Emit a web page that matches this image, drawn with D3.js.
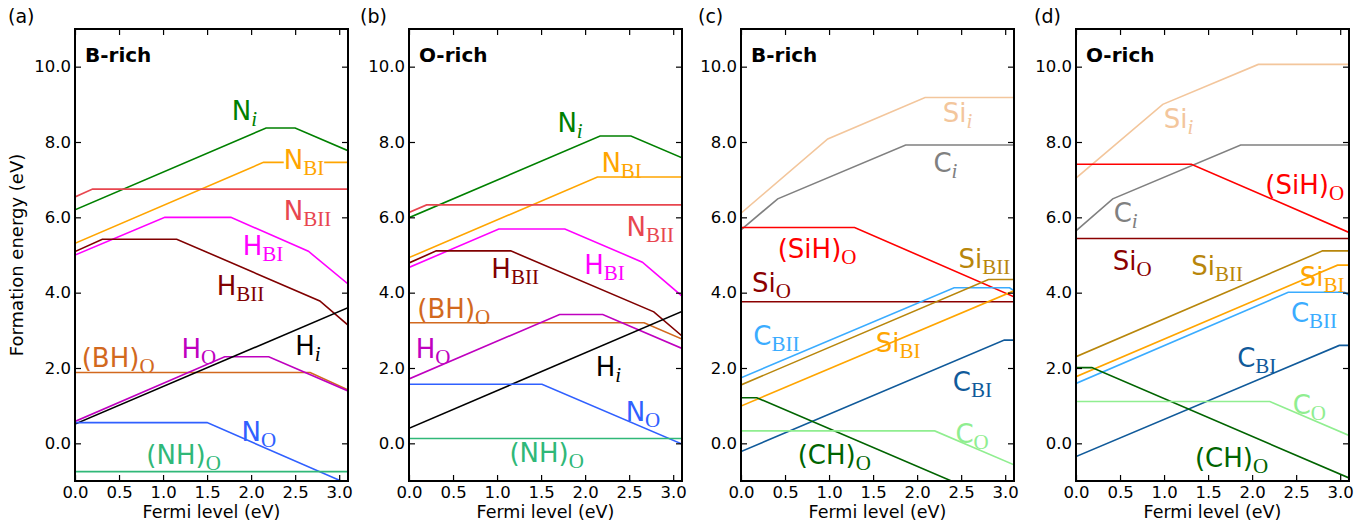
<!DOCTYPE html>
<html>
<head>
<meta charset="utf-8">
<script src="https://cdn.jsdelivr.net/npm/d3@7"></script>
<style>
  body { margin: 0; background: #fff; }
  svg text { font-family: "DejaVu Sans", sans-serif; }
</style>
</head>
<body>
<svg id="chart" width="1371" height="532"></svg>
<script>
const xTicks = [0, 0.5, 1, 1.5, 2, 2.5, 3];
const yTicks = [0, 2, 4, 6, 8, 10];
const panelLetters = ["(a)", "(b)", "(c)", "(d)"];
const conditions = ["B-rich", "O-rich", "B-rich", "O-rich"];

// (a) B-rich, N and H defects  -- [Fermi level, formation energy]
const a_Ni   = [[0, 6.2], [2.17, 8.37], [2.5, 8.37], [3.1, 7.77]];
const a_NBI  = [[0, 5.31], [2.14, 7.46], [3.1, 7.46]];
const a_NBII = [[0, 6.54], [0.2, 6.75], [3.1, 6.75]];
const a_HBI  = [[0, 5.0], [1.02, 6.0], [1.77, 6.0], [2.65, 5.1], [3.1, 4.23]];
const a_HBII = [[0, 5.09], [0.31, 5.42], [1.155, 5.42], [2.78, 3.78], [3.1, 3.14]];
const a_BHO  = [[0, 1.88], [2.67, 1.88], [3.1, 1.42]];
const a_HO   = [[0, 0.58], [1.7, 2.3], [2.2, 2.3], [3.1, 1.39]];
const a_Hi   = [[0, 0.51], [3.1, 3.6]];
const a_NO   = [[0, 0.55], [1.5, 0.55], [3.1, -1.08]];
const a_NHO  = [[0, -0.75], [3.1, -0.75]];

// (b) O-rich, N and H defects
const b_Ni   = [[0, 5.99], [2.17, 8.16], [2.52, 8.16], [3.1, 7.58]];
const b_NBI  = [[0, 4.93], [2.14, 7.07], [3.1, 7.07]];
const b_NBII = [[0, 6.13], [0.2, 6.33], [3.1, 6.33]];
const b_HBI  = [[0, 4.67], [1.02, 5.69], [1.77, 5.69], [2.65, 4.81], [3.1, 3.91]];
const b_HBII = [[0, 4.79], [0.31, 5.11], [1.155, 5.11], [2.78, 3.49], [3.1, 2.85]];
const b_BHO  = [[0, 3.2], [2.67, 3.2], [3.1, 2.77]];
const b_HO   = [[0, 1.71], [1.71, 3.42], [2.2, 3.42], [3.1, 2.52]];
const b_Hi   = [[0, 0.4], [3.1, 3.5]];
const b_NO   = [[0, 1.57], [1.51, 1.57], [3.1, -0.02]];
const b_NHO  = [[0, 0.13], [3.1, 0.13]];

// (c) B-rich, Si and C defects
const c_Sii   = [[0, 6.11], [0.985, 8.08], [2.09, 9.18], [3.1, 9.18]];
const c_Ci    = [[0, 5.67], [0.417, 6.49], [1.87, 7.92], [3.1, 7.92]];
const c_SiHO  = [[0, 5.73], [1.29, 5.73], [3.1, 3.89]];
const c_SiO   = [[0, 3.76], [3.1, 3.76]];
const c_CBII  = [[0, 1.74], [2.42, 4.13], [3.05, 4.13], [3.1, 4.05]];
const c_SiBII = [[0, 1.55], [2.81, 4.35], [3.1, 4.35]];
const c_SiBI  = [[0, 0.99], [3.1, 4.05]];
const c_CBI   = [[0, -0.22], [2.99, 2.74], [3.1, 2.74]];
const c_CHO   = [[0, 1.21], [0.18, 1.21], [3.1, -1.71]];
const c_CO    = [[0, 0.33], [2.2, 0.33], [3.1, -0.57]];

// (d) O-rich, Si and C defects
const d_Sii   = [[0, 7.04], [0.985, 9.0], [2.07, 10.06], [3.1, 10.06]];
const d_Ci    = [[0, 5.64], [0.417, 6.49], [1.87, 7.92], [3.1, 7.92]];
const d_SiHO  = [[0, 7.41], [1.31, 7.41], [3.1, 5.6]];
const d_SiO   = [[0, 5.44], [3.1, 5.44]];
const d_SiBII = [[0, 2.3], [2.8, 5.11], [3.1, 5.11]];
const d_SiBI  = [[0, 1.77], [2.97, 4.73], [3.1, 4.73]];
const d_CBII  = [[0, 1.59], [2.41, 4.01], [3.05, 4.01], [3.1, 3.93]];
const d_CBI   = [[0, -0.35], [2.99, 2.6], [3.1, 2.6]];
const d_CHO   = [[0, 2.01], [0.18, 2.01], [3.1, -0.92]];
const d_CO    = [[0, 1.11], [2.2, 1.11], [3.1, 0.21]];

// defect names per panel, same order as the series
const nhKeys  = ["Ni", "NBI", "NBII", "HBI", "HBII", "BHO", "HO", "Hi", "NO", "NHO"];
const sicKeys = ["Sii", "Ci", "SiHO", "SiO", "CBII", "SiBII", "SiBI", "CBI", "CHO", "CO"];

// where each defect name is written (data coords, baseline-left), same order as keys
const a_labelAt = [[1.78, 8.58], [2.37, 7.28], [2.37, 5.93], [1.905, 5.0], [1.61, 3.94],
                   [0.076, 2.03], [1.21, 2.26], [2.5, 2.34], [1.89, 0.05], [0.81, -0.56]];
const b_labelAt = [[1.685, 8.26], [2.185, 7.21], [2.47, 5.51], [1.99, 4.49], [0.935, 4.38],
                   [0.095, 3.34], [0.076, 2.27], [2.12, 1.8], [2.46, 0.59], [1.14, -0.5]];
const c_labelAt = [[2.29, 8.52], [2.185, 7.21], [0.417, 4.91], [0.125, 4.03], [0.14, 2.61],
                   [2.47, 4.66], [1.53, 2.43], [2.405, 1.39], [0.644, -0.56], [2.435, 0.0]];
const d_labelAt = [[0.996, 8.36], [0.428, 5.88], [2.15, 6.61], [0.417, 4.6], [2.44, 3.23],
                   [1.31, 4.47], [2.54, 4.18], [1.83, 2.03], [1.35, -0.62], [2.46, 0.77]];

// label text: main part (sans) + subscript (serif), italic subscript for interstitials
const labelText = {
  Ni: ["N", "i", true], NBI: ["N", "BI"], NBII: ["N", "BII"], HBI: ["H", "BI"], HBII: ["H", "BII"],
  BHO: ["(BH)", "O"], HO: ["H", "O"], Hi: ["H", "i", true], NO: ["N", "O"], NHO: ["(NH)", "O"],
  Sii: ["Si", "i", true], Ci: ["C", "i", true], SiHO: ["(SiH)", "O"], SiO: ["Si", "O"],
  CBII: ["C", "BII"], SiBII: ["Si", "BII"], SiBI: ["Si", "BI"], CBI: ["C", "BI"],
  CHO: ["(CH)", "O"], CO: ["C", "O"]
};

const colors = {
  Ni: "#008000", NBI: "#ffa500", NBII: "#e8464f", HBI: "#ff00ff", HBII: "#800000",
  BHO: "#d2691e", HO: "#bf00bf", Hi: "#000000", NO: "#3060ff", NHO: "#30b878",
  Sii: "#f3c69c", Ci: "#808080", SiHO: "#ff0000", SiO: "#8b0000", CBII: "#3aacff",
  SiBII: "#b8860b", SiBI: "#ffa500", CBI: "#105a9a", CHO: "#006400", CO: "#90ee90"
};

const panels = [
  {keys: nhKeys, series: [a_Ni, a_NBI, a_NBII, a_HBI, a_HBII, a_BHO, a_HO, a_Hi, a_NO, a_NHO], labels: a_labelAt},
  {keys: nhKeys, series: [b_Ni, b_NBI, b_NBII, b_HBI, b_HBII, b_BHO, b_HO, b_Hi, b_NO, b_NHO], labels: b_labelAt},
  {keys: sicKeys, series: [c_Sii, c_Ci, c_SiHO, c_SiO, c_CBII, c_SiBII, c_SiBI, c_CBI, c_CHO, c_CO], labels: c_labelAt},
  {keys: sicKeys, series: [d_Sii, d_Ci, d_SiHO, d_SiO, d_CBII, d_SiBII, d_SiBI, d_CBI, d_CHO, d_CO], labels: d_labelAt}
];

const panelLeft = [75, 409, 741, 1076];
const letterX = [8, 360, 698, 1034];
const plotTop = 29;
const plotW = 273;
const plotH = 452;

const svg = d3.select("#chart");

const x = d3.scaleLinear().domain([0, 3.1]).range([0, plotW]);
const y = d3.scaleLinear().domain([-1, 11]).range([plotH, 0]);
const line = d3.line().x(d => x(d[0])).y(d => y(d[1]));

panels.forEach((p, i) => {
  const g = svg.append("g").attr("transform", `translate(${panelLeft[i]},${plotTop})`);

  g.append("clipPath").attr("id", "clip" + i)
    .append("rect").attr("width", plotW).attr("height", plotH);

  const plot = g.append("g").attr("clip-path", `url(#clip${i})`);

  plot.selectAll("path.defect")
    .data(p.series)
    .enter().append("path")
    .attr("class", "defect")
    .attr("d", line)
    .attr("fill", "none")
    .attr("stroke", (d, j) => colors[p.keys[j]])
    .attr("stroke-width", 1.6);

  // labels
  p.keys.forEach((k, j) => {
    const [main, sub, ital] = labelText[k];
    const t = g.append("text")
      .attr("x", x(p.labels[j][0]))
      .attr("y", y(p.labels[j][1]))
      .attr("fill", colors[k]);
    t.append("tspan").attr("font-size", 26).text(main);
    t.append("tspan")
      .attr("font-family", "'Liberation Serif', 'DejaVu Serif', serif")
      .attr("font-style", ital ? "italic" : "normal")
      .attr("font-size", 21)
      .attr("dy", 6)
      .text(sub);
    if (i === 0 && k === "NBI") {
      const bb = t.node().getBBox();
      g.insert("rect", "text")
        .attr("x", bb.x).attr("y", bb.y + 5)
        .attr("width", bb.width).attr("height", bb.height - 8)
        .attr("fill", "#fff");
    }
  });

  // axes with inward ticks on all four sides
  g.append("g").attr("transform", `translate(0,${plotH})`)
    .call(d3.axisBottom(x).tickValues(xTicks).tickFormat(d3.format(".1f")).tickSize(-6).tickPadding(5));
  g.append("g")
    .call(d3.axisTop(x).tickValues(xTicks).tickFormat("").tickSize(-6));
  g.append("g")
    .call(d3.axisLeft(y).tickValues(yTicks).tickFormat(d3.format(".1f")).tickSize(-6).tickPadding(4));
  g.append("g").attr("transform", `translate(${plotW},0)`)
    .call(d3.axisRight(y).tickValues(yTicks).tickFormat("").tickSize(-6));

  g.selectAll(".domain").remove();
  g.selectAll(".tick line").attr("stroke", "#000").attr("stroke-width", 1.2);
  g.selectAll(".tick text")
    .attr("font-family", "'DejaVu Sans', sans-serif")
    .attr("font-size", 16.5)
    .attr("fill", "#000");

  g.append("rect")
    .attr("width", plotW).attr("height", plotH)
    .attr("fill", "none").attr("stroke", "#000").attr("stroke-width", 2);

  g.append("text")
    .attr("x", 10).attr("y", 33)
    .attr("font-size", 20).attr("font-weight", "bold")
    .text(conditions[i]);

  g.append("text")
    .attr("x", plotW / 2).attr("y", plotH + 37)
    .attr("text-anchor", "middle")
    .attr("font-size", 17.5)
    .text("Fermi level (eV)");

  svg.append("text")
    .attr("x", letterX[i]).attr("y", 23)
    .attr("font-size", 19)
    .text(panelLetters[i]);
});

svg.append("text")
  .attr("transform", `translate(23,${plotTop + plotH / 2}) rotate(-90)`)
  .attr("text-anchor", "middle")
  .attr("font-size", 18)
  .text("Formation energy (eV)");
</script>
</body>
</html>
